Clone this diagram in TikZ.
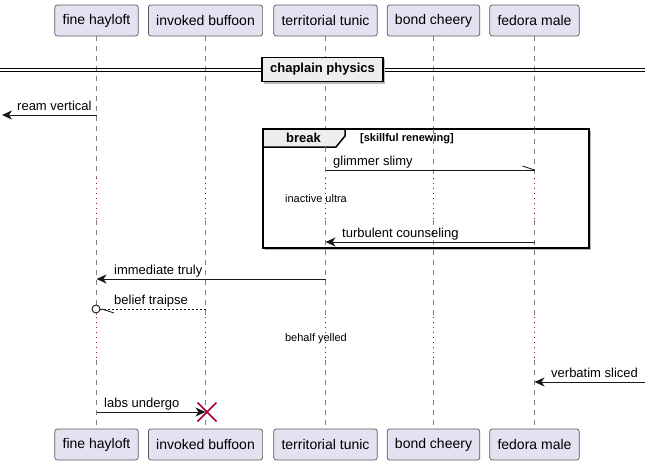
\documentclass[tikz,border=0pt]{standalone}
\usepackage{fontspec}
\setmainfont{Liberation Sans}
\usetikzlibrary{arrows.meta}
\definecolor{partfill}{HTML}{E2E2F0}
\definecolor{partline}{HTML}{5A5A5A}
\definecolor{lifegray}{HTML}{808080}
\definecolor{plumred}{HTML}{A80036}
\definecolor{tabfill}{HTML}{EEEEEE}
\begin{document}
\begin{tikzpicture}[x=1pt,y=-1pt,
  participant/.style={draw=partline, fill=partfill, rounded corners=2.5pt, line width=0.7pt,
    minimum height=31pt, inner xsep=7.8pt, inner ysep=0pt, font=\fontsize{14}{16}\selectfont},
  lifedash/.style={draw=lifegray, line width=0.6pt, dash pattern=on 5pt off 5pt},
  delaydot/.style={draw=plumred, line width=0.9pt, dash pattern=on 1pt off 4pt},
  msg/.style={line width=0.9pt, draw=black!90},
  msgdash/.style={line width=0.9pt, draw=black!90, dash pattern=on 2pt off 2pt},
  filledtip/.style={-{Stealth[length=10pt,width=9pt,inset=3pt]}},
  lbl/.style={font=\fontsize{13}{15}\selectfont, inner sep=0pt, anchor=base west},
  delaytxt/.style={font=\fontsize{11}{13}\selectfont, inner sep=0pt},
  boldtxt/.style={font=\fontsize{13}{15}\selectfont\bfseries, inner sep=0pt},
  guardtxt/.style={font=\fontsize{11}{13}\selectfont\bfseries, inner sep=0pt, anchor=base west},
  shadowfill/.style={fill=black!28}
]
\useasboundingbox (0,0) rectangle (651,466);

% participants
\node[participant] (pa) at (96.5,20.5) {fine hayloft};
\node[participant] (pb) at (205.5,20.5) {invoked buffoon};
\node[participant] (pc) at (325.5,20.5) {territorial tunic};
\node[participant] (pd) at (433.5,20.5) {bond cheery};
\node[participant] (pe) at (534.5,20.5) {fedora male};
\node[participant] (qa) at (96.5,444.5) {fine hayloft};
\node[participant] (qb) at (205.5,444.5) {invoked buffoon};
\node[participant] (qc) at (325.5,444.5) {territorial tunic};
\node[participant] (qd) at (433.5,444.5) {bond cheery};
\node[participant] (qe) at (534.5,444.5) {fedora male};

% lifelines
\foreach \n in {a,b,c,d,e} {
  \draw[lifedash] (p\n.south) -- (p\n.south |- 0,178);
  \draw[delaydot] (p\n.south |- 0,178) -- (p\n.south |- 0,220);
  \draw[lifedash] (p\n.south |- 0,220) -- (p\n.south |- 0,317);
  \draw[delaydot] (p\n.south |- 0,317) -- (p\n.south |- 0,360);
  \draw[lifedash] (p\n.south |- 0,360) -- (q\n.north);
}

% divider
\coordinate (dl) at (0,68);
\coordinate (dr) at (645,68);
\draw[line width=0.9pt] (dl) -- (dr);
\draw[line width=0.9pt] ([yshift=-3pt]dl) -- ([yshift=-3pt]dr);
\fill[shadowfill] (263.5,58.5) rectangle (384.5,83.5);
\node[draw=black, line width=1.5pt, fill=tabfill, minimum width=121pt, minimum height=24pt,
  boldtxt] (div) at (322.5,69.5) {chaplain physics};

% message 1
\coordinate (m1e) at (2,115);
\draw[msg, filledtip] (pa.south |- 0,115) -- (m1e);
\node[lbl] (l1) at (17,110.5) {ream vertical};

% break frame
\fill[shadowfill] (264.5,130.5) rectangle (590.5,249.5);
\draw[line width=1.5pt, fill=white] (263,129) rectangle (589,248);
\draw[line width=1.5pt, fill=tabfill] (263,129) -- (345,129) -- (345,136) -- (336,147) -- (263,147) -- cycle;
\node[boldtxt] (brk) at (303.5,138) {break};
\node[guardtxt] (grd) at (360,141.5) {[skillful renewing]};
\draw[lifedash] (pc.south |- 0,147) -- (pc.south |- 0,178);
\draw[lifedash] (pd.south |- 0,129) -- (pd.south |- 0,178);
\draw[lifedash] (pe.south |- 0,129) -- (pe.south |- 0,178);
\draw[delaydot] (pc.south |- 0,178) -- (pc.south |- 0,220);
\draw[delaydot] (pd.south |- 0,178) -- (pd.south |- 0,220);
\draw[delaydot] (pe.south |- 0,178) -- (pe.south |- 0,220);
\draw[lifedash] (pc.south |- 0,220) -- (pc.south |- 0,248);
\draw[lifedash] (pd.south |- 0,220) -- (pd.south |- 0,248);
\draw[lifedash] (pe.south |- 0,220) -- (pe.south |- 0,248);

% message 2 glimmer slimy (half head)
\coordinate (m2s) at (pc.south |- 0,170);
\coordinate (m2e) at (pe.south |- 0,170);
\draw[msg] (m2s) -- (m2e);
\draw[msg] (m2e) -- ++(-12,-4);
\node[lbl] (l2) at (333,165) {glimmer slimy};

% delay 1
\node[delaytxt] (d1) at (316,199) {inactive ultra};

% message 3 turbulent counseling
\draw[msg, filledtip] (pe.south |- 0,242) -- (pc.south |- 0,242);
\node[lbl] (l3) at (342,237) {turbulent counseling};

% message 4 immediate truly
\draw[msg, filledtip] (pc.south |- 0,279) -- (pa.south |- 0,279);
\node[lbl] (l4) at (114,274) {immediate truly};

% message 5 belief traipse
\coordinate (m5e) at (pa.south |- 0,309);
\node[circle, draw=black!90, line width=0.9pt, fill=white, minimum size=8pt, inner sep=0pt] (c5) at ([xshift=-0.5pt]m5e) {};
\draw[msgdash] (pb.south |- 0,309) -- (c5.east);
\draw[msg] ([xshift=1.5pt]c5.east) -- ++(12,4);
\node[lbl] (l5) at (114,304) {belief traipse};

% delay 2
\node[delaytxt] (d2) at (316,339) {behalf yelled};

% message 6 verbatim sliced
\coordinate (m6s) at (645,382);
\draw[msg, filledtip] (m6s) -- (pe.south |- 0,382);
\node[lbl] (l6) at (551,377) {verbatim sliced};

% message 7 labs undergo with destroy
\coordinate (x7) at ([xshift=1.5pt]pb.south |- 0,412);
\draw[msg, filledtip] (pa.south |- 0,412) -- (pb.south |- 0,412);
\node[lbl] (l7) at (104,407) {labs undergo};
\draw[plumred, line width=1.6pt] ([shift={(-9.5,-9.5)}]x7) -- ([shift={(9.5,9.5)}]x7);
\draw[plumred, line width=1.6pt] ([shift={(-9.5,9.5)}]x7) -- ([shift={(9.5,-9.5)}]x7);
\end{tikzpicture}
\end{document}
